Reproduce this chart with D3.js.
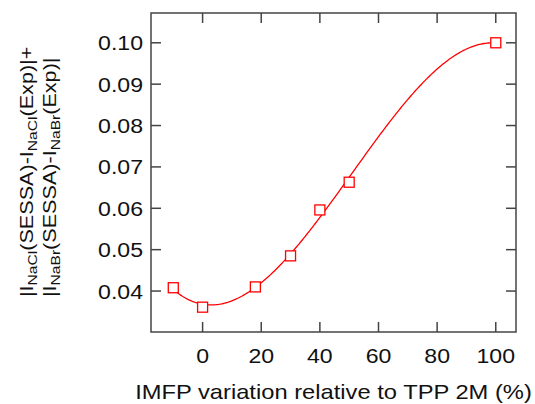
<!DOCTYPE html>
<html>
<head>
<meta charset="utf-8">
<script src="https://cdn.jsdelivr.net/npm/d3@7"></script>
<style>
  body { margin: 0; background: #fff; }
  svg { display: block; font-family: "Liberation Sans", Arial, sans-serif; }
</style>
</head>
<body>
<div id="chart"></div>
<script>
// Data
const imfpVariation = [-10, 0, 18, 30, 40, 50, 100];
const deviation = [0.0408, 0.0361, 0.0410, 0.0485, 0.0596, 0.0663, 0.1000];
const xTicks = [0, 20, 40, 60, 80, 100];
const yTicks = [0.04, 0.05, 0.06, 0.07, 0.08, 0.09, 0.10];

const width = 535;
const height = 404;

const frame = { left: 151, right: 516, top: 13, bottom: 332 };
const tickLen = 10;
const axisColor = "#444";
const textStretch = 1.1;

// Least-squares polynomial fit (the red curve is a fit through the markers)
function polyFit(xs, ys, degree) {
  const n = degree + 1;
  const A = Array.from({ length: n }, () => new Array(n + 1).fill(0));
  for (let r = 0; r < n; r++) {
    for (let c = 0; c < n; c++) {
      A[r][c] = d3.sum(xs, (x) => Math.pow(x, r + c));
    }
    A[r][n] = d3.sum(xs, (x, i) => ys[i] * Math.pow(x, r));
  }
  // Gaussian elimination
  for (let i = 0; i < n; i++) {
    let p = i;
    for (let k = i + 1; k < n; k++) if (Math.abs(A[k][i]) > Math.abs(A[p][i])) p = k;
    [A[i], A[p]] = [A[p], A[i]];
    for (let k = i + 1; k < n; k++) {
      const f = A[k][i] / A[i][i];
      for (let j = i; j <= n; j++) A[k][j] -= f * A[i][j];
    }
  }
  const coef = new Array(n).fill(0);
  for (let i = n - 1; i >= 0; i--) {
    let s = A[i][n];
    for (let j = i + 1; j < n; j++) s -= A[i][j] * coef[j];
    coef[i] = s / A[i][i];
  }
  return (x) => coef.reduce((acc, c, i) => acc + c * Math.pow(x, i), 0);
}

const svg = d3
  .select("#chart")
  .append("svg")
  .attr("width", width)
  .attr("height", height);

const xScale = d3
  .scaleLinear()
  .domain([-17.6, 106.9])
  .range([frame.left, frame.right]);

const yScale = d3
  .scaleLinear()
  .domain([0.0301, 0.1072])
  .range([frame.bottom, frame.top]);

// Mirrored inward ticks on all four sides
const ticks = svg.append("g").attr("stroke", axisColor).attr("stroke-width", 1.5);

ticks
  .selectAll("line.xb")
  .data(xTicks)
  .join("line")
  .attr("class", "xb")
  .attr("x1", (d) => xScale(d))
  .attr("x2", (d) => xScale(d))
  .attr("y1", frame.bottom)
  .attr("y2", frame.bottom - tickLen);

ticks
  .selectAll("line.xt")
  .data(xTicks)
  .join("line")
  .attr("class", "xt")
  .attr("x1", (d) => xScale(d))
  .attr("x2", (d) => xScale(d))
  .attr("y1", frame.top)
  .attr("y2", frame.top + tickLen);

ticks
  .selectAll("line.yl")
  .data(yTicks)
  .join("line")
  .attr("class", "yl")
  .attr("x1", frame.left)
  .attr("x2", frame.left + tickLen)
  .attr("y1", (d) => yScale(d))
  .attr("y2", (d) => yScale(d));

ticks
  .selectAll("line.yr")
  .data(yTicks)
  .join("line")
  .attr("class", "yr")
  .attr("x1", frame.right)
  .attr("x2", frame.right - tickLen)
  .attr("y1", (d) => yScale(d))
  .attr("y2", (d) => yScale(d));

svg
  .append("rect")
  .attr("x", frame.left)
  .attr("y", frame.top)
  .attr("width", frame.right - frame.left)
  .attr("height", frame.bottom - frame.top)
  .attr("fill", "none")
  .attr("stroke", axisColor)
  .attr("stroke-width", 1.5);

// Tick labels
svg
  .append("g")
  .selectAll("text")
  .data(xTicks)
  .join("text")
  .attr("transform", (d) => `translate(${xScale(d)},${362.5}) scale(${textStretch},1)`)
  .attr("text-anchor", "middle")
  .attr("font-size", 21)
  .attr("fill", "#111")
  .text((d) => d);

svg
  .append("g")
  .selectAll("text")
  .data(yTicks)
  .join("text")
  .attr("transform", (d) => `translate(143,${yScale(d) + 7.5}) scale(${textStretch},1)`)
  .attr("text-anchor", "end")
  .attr("font-size", 21)
  .attr("fill", "#111")
  .text((d) => d3.format(".2f")(d));

// Axis titles
svg
  .append("text")
  .attr("transform", `translate(${(frame.left + frame.right) / 2},398.5) scale(${textStretch + 0.03},1)`)
  .attr("text-anchor", "middle")
  .attr("font-size", 21)
  .attr("fill", "#111")
  .text("IMFP variation relative to TPP 2M (%)");

const yTitleLines = [
  [["|I", false], ["NaCl", true], ["(SESSA)-I", false], ["NaCl", true], ["(Exp)|+", false]],
  [["|I", false], ["NaBr", true], ["(SESSA)-I", false], ["NaBr", true], ["(Exp)|", false]],
];
const yTitleBaselines = [33, 56];

yTitleLines.forEach((parts, i) => {
  const t = svg
    .append("text")
    .attr("transform", `translate(${yTitleBaselines[i]},297) rotate(-90) scale(1.2,1)`)
    .attr("font-size", 18)
    .attr("fill", "#111");
  parts.forEach(([str, sub]) => {
    const span = t.append("tspan").text(str);
    if (sub) {
      span.attr("font-size", 13).attr("dy", 4);
    } else {
      span.attr("dy", t.selectAll("tspan").size() > 1 ? -4 : 0);
    }
  });
});

// Fitted curve and markers
const points = imfpVariation.map((x, i) => [x, deviation[i]]);
const fit = polyFit(imfpVariation, deviation, 3);
const [xMin, xMax] = d3.extent(imfpVariation);
const fitPoints = d3.range(xMin, xMax + 0.001, 0.5).map((x) => [x, fit(x)]);

const line = d3
  .line()
  .x((d) => xScale(d[0]))
  .y((d) => yScale(d[1]));

svg
  .append("path")
  .datum(fitPoints)
  .attr("d", line)
  .attr("fill", "none")
  .attr("stroke", "#ff0000")
  .attr("stroke-width", 1.3);

const markerSize = 10;
svg
  .append("g")
  .selectAll("rect")
  .data(points)
  .join("rect")
  .attr("x", (d) => xScale(d[0]) - markerSize / 2)
  .attr("y", (d) => yScale(d[1]) - markerSize / 2)
  .attr("width", markerSize)
  .attr("height", markerSize)
  .attr("fill", "#fff")
  .attr("stroke", "#ff0000")
  .attr("stroke-width", 1.3);
</script>
</body>
</html>
